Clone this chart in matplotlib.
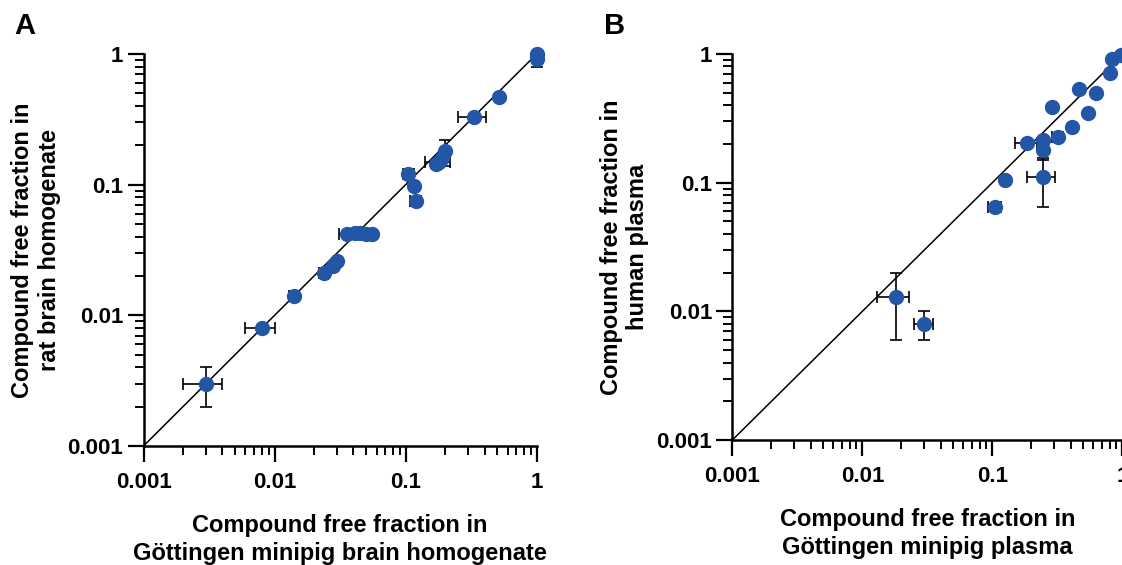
import numpy as np
import matplotlib
matplotlib.use("Agg")
import matplotlib.pyplot as plt

plt.rcParams["font.family"] = ["Liberation Sans", "DejaVu Sans"]
plt.rcParams["font.weight"] = "bold"

BLUE = "#2456A8"

# 数据：A 图（脑匀浆）
a_x = [0.003, 0.008, 0.014, 0.024, 0.028, 0.030, 0.036, 0.041, 0.045, 0.050, 0.055,
       0.105, 0.115, 0.12, 0.17, 0.18, 0.19, 0.20, 0.33, 0.52, 1.0, 1.0]
a_y = [0.003, 0.008, 0.014, 0.021, 0.024, 0.026, 0.042, 0.043, 0.043, 0.042, 0.042,
       0.12, 0.097, 0.075, 0.145, 0.15, 0.16, 0.18, 0.33, 0.47, 1.0, 0.92]
a_xerr = [0.001, 0.002, 0.001, 0.002, 0.0, 0.0, 0.005, 0.0, 0.0, 0.0, 0.0,
          0.01, 0.0, 0.012, 0.0, 0.04, 0.0, 0.0, 0.08, 0.0, 0.0, 0.0]
a_yerr = [0.001, 0.0, 0.001, 0.0, 0.0, 0.0, 0.0, 0.0, 0.0, 0.0, 0.0,
          0.0, 0.0, 0.0, 0.0, 0.0, 0.0, 0.04, 0.0, 0.0, 0.0, 0.12]

# 数据：B 图（血浆）
b_x = [0.018, 0.030, 0.105, 0.125, 0.185, 0.245, 0.245, 0.245, 0.32, 0.29,
       0.41, 0.465, 0.54, 0.63, 0.80, 0.84, 0.97]
b_y = [0.013, 0.008, 0.065, 0.105, 0.205, 0.215, 0.18, 0.11, 0.225, 0.385,
       0.27, 0.53, 0.345, 0.495, 0.71, 0.91, 0.98]
b_xerr = [0.005, 0.005, 0.012, 0.0, 0.035, 0.0, 0.0, 0.06, 0.03, 0.0,
          0.0, 0.0, 0.0, 0.0, 0.0, 0.0, 0.0]
b_yerr = [0.007, 0.002, 0.0, 0.0, 0.0, 0.0, 0.03, 0.045, 0.0, 0.0,
          0.0, 0.0, 0.0, 0.0, 0.0, 0.0, 0.0]

ticks = [0.001, 0.01, 0.1, 1]
tick_labels = ["0.001", "0.01", "0.1", "1"]


def draw_panel(ax, x, y, xerr, yerr, xlabel, ylabel):
    ax.set_xscale("log"); ax.set_yscale("log")
    ax.set_xlim(0.001, 1); ax.set_ylim(0.001, 1)
    ax.plot([0.001, 1], [0.001, 1], color="black", lw=1.1, zorder=1)
    ax.errorbar(x, y, xerr=xerr, yerr=yerr, fmt="none", ecolor="black",
                elinewidth=1.2, capsize=4, capthick=1.2, zorder=2, clip_on=False)
    ax.plot(x, y, "o", color=BLUE, ms=10, mec=BLUE, zorder=3, clip_on=False)
    for s in ["top", "right"]:
        ax.spines[s].set_visible(False)
    for s in ["left", "bottom"]:
        ax.spines[s].set_linewidth(1.8)
    ax.set_xticks(ticks, labels=tick_labels)
    ax.set_yticks(ticks, labels=tick_labels)
    ax.tick_params(which="major", length=11.5, width=1.6, labelsize=16)
    ax.tick_params(which="minor", length=6.5, width=1.4)
    ax.tick_params(axis="x", which="major", pad=7)
    ax.tick_params(axis="y", which="major", pad=3)
    ax.set_xlabel(xlabel, fontsize=17, fontweight="bold", labelpad=15, linespacing=1.3)
    ax.set_ylabel(ylabel, fontsize=17, fontweight="bold", labelpad=5, linespacing=1.2)


fig = plt.figure(figsize=(11.22, 5.65), dpi=100)
ax_a = fig.add_axes([0.1279, 0.2106, 0.3504, 0.6938])
ax_b = fig.add_axes([0.6527, 0.2212, 0.3476, 0.6832])

draw_panel(ax_a, a_x, a_y, a_xerr, a_yerr,
           "Compound free fraction in\nGöttingen minipig brain homogenate",
           "Compound free fraction in\nrat brain homogenate")
draw_panel(ax_b, b_x, b_y, b_xerr, b_yerr,
           "Compound free fraction in\nGöttingen minipig plasma",
           "Compound free fraction in\nhuman plasma")

fig.text(0.013, 0.978, "A", fontsize=21, fontweight="bold", va="top")
fig.text(0.538, 0.978, "B", fontsize=21, fontweight="bold", va="top")

fig.savefig("out.png", dpi=100)
